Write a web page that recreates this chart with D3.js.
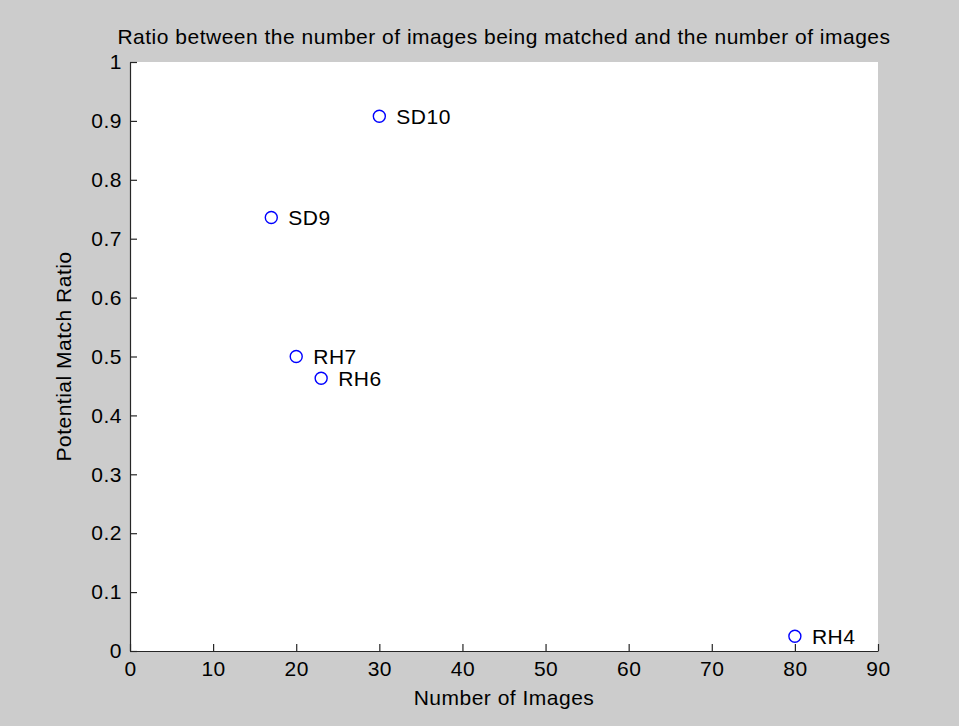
<!DOCTYPE html>
<html>
<head>
<meta charset="utf-8">
<script src="https://cdn.jsdelivr.net/npm/d3@7"></script>
<style>
  body { margin: 0; background: #cccccc; }
  svg text { font-family: Arial, "Liberation Sans", sans-serif; fill: #000; letter-spacing: 0.5px; }
</style>
</head>
<body>
<div id="chart"></div>
<script>
// Data
const names = ["SD10", "SD9", "RH7", "RH6", "RH4"];
const numImages = [30, 17, 20, 23, 80];
const matchRatio = [0.908, 0.736, 0.5, 0.463, 0.025];
const xTicks = [0, 10, 20, 30, 40, 50, 60, 70, 80, 90];
const yTicks = [0, 0.1, 0.2, 0.3, 0.4, 0.5, 0.6, 0.7, 0.8, 0.9, 1];

const W = 959, H = 726;
const margin = { top: 62, right: 81, bottom: 75, left: 130 },
      width = W - margin.left - margin.right,
      height = H - margin.top - margin.bottom;

const root = d3.select("#chart").append("svg")
    .attr("width", W).attr("height", H);

root.append("rect").attr("width", W).attr("height", H).attr("fill", "#cccccc");

const svg = root.append("g")
    .attr("transform", `translate(${margin.left},${margin.top})`);

svg.append("rect").attr("width", width).attr("height", height).attr("fill", "#fff");

const x = d3.scaleLinear().domain([0, 90]).range([0, width]);
const y = d3.scaleLinear().domain([0, 1]).range([height, 0]);

// axes with inward ticks, like matlab
const xAxis = svg.append("g")
    .attr("transform", `translate(0,${height})`)
    .call(d3.axisBottom(x).tickValues(xTicks).tickSize(-7).tickPadding(10).tickSizeOuter(0));
xAxis.selectAll("text").attr("dy", "0.71em");

const yAxis = svg.append("g")
    .call(d3.axisLeft(y).tickValues(yTicks).tickFormat(d => d3.format("")(+d.toFixed(1))).tickSize(-7).tickPadding(8).tickSizeOuter(0));

svg.selectAll(".domain, .tick line").attr("stroke", "#262626").attr("stroke-width", 1.2);
svg.selectAll(".tick text").style("font-size", "21px").attr("fill", "#000");

const pts = names.map((n, i) => ({ name: n, n: numImages[i], r: matchRatio[i] }));

svg.selectAll("circle.pt")
    .data(pts)
    .join("circle")
        .attr("class", "pt")
        .attr("cx", d => x(d.n))
        .attr("cy", d => y(d.r))
        .attr("r", 6)
        .attr("fill", "none")
        .attr("stroke", "#0000ff")
        .attr("stroke-width", 1.4);

svg.selectAll("text.lbl")
    .data(pts)
    .join("text")
        .attr("class", "lbl")
        .attr("x", d => x(d.n) + 17)
        .attr("y", d => y(d.r))
        .attr("dy", "0.35em")
        .style("font-size", "21px")
        .text(d => d.name);

// title and axis labels
root.append("text")
    .attr("x", margin.left + width / 2)
    .attr("y", 44)
    .attr("text-anchor", "middle")
    .style("font-size", "21px")
    .text("Ratio between the number of images being matched and the number of images");

root.append("text")
    .attr("x", margin.left + width / 2)
    .attr("y", 705)
    .attr("text-anchor", "middle")
    .style("font-size", "21px")
    .text("Number of Images");

root.append("text")
    .attr("transform", `translate(71,${margin.top + height / 2}) rotate(-90)`)
    .attr("text-anchor", "middle")
    .style("font-size", "21px")
    .text("Potential Match Ratio");
</script>
</body>
</html>
